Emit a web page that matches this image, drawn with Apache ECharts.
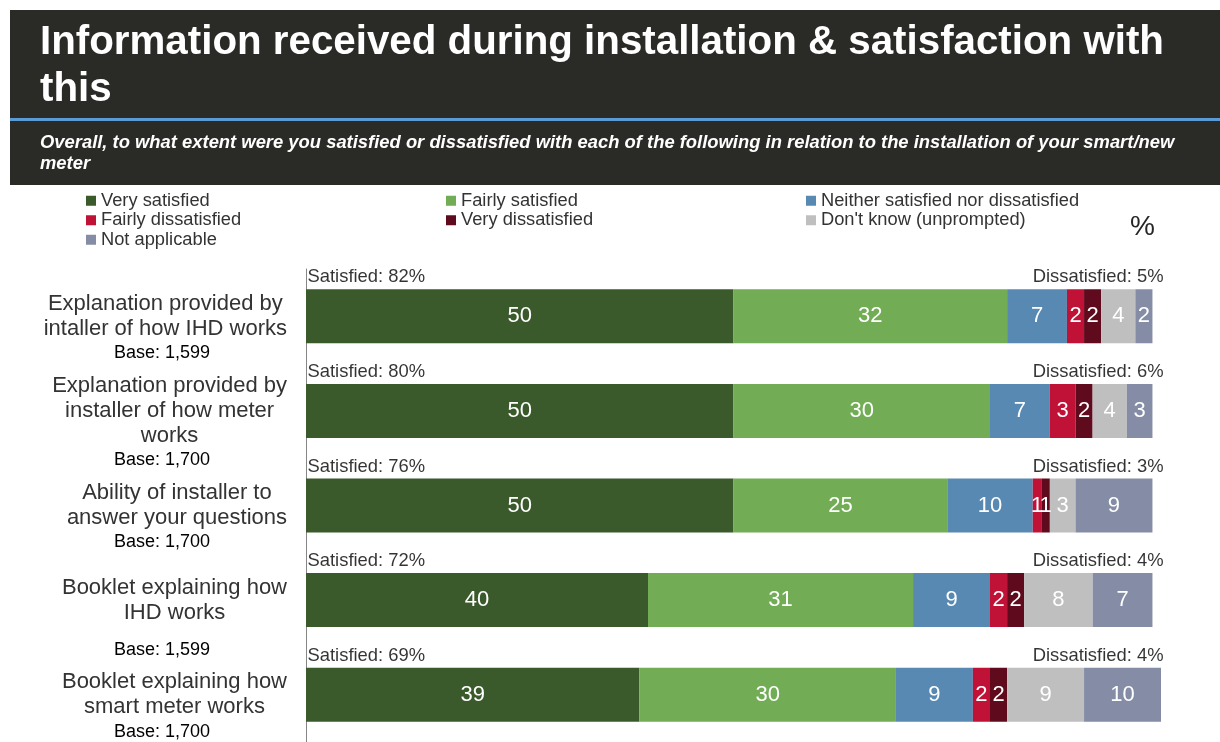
<!DOCTYPE html>
<html>
<head>
<meta charset="utf-8">
<title>Information received during installation & satisfaction with this</title>
<script src="https://cdn.jsdelivr.net/npm/echarts@6/dist/echarts.min.js"></script>
<style>
  html, body { margin: 0; padding: 0; background: #ffffff; }
  #chart { width: 1220px; height: 742px; }
</style>
</head>
<body>
<div id="chart"></div>
<script>
// Question rows; an empty string is a short blank line in the axis label
const categoryLines = [
  ['Explanation provided by', 'intaller of how IHD works'],
  ['Explanation provided by', 'installer of how meter', 'works'],
  ['Ability of installer to', 'answer your questions'],
  ['', 'Booklet explaining how', 'IHD works', ''],
  ['Booklet explaining how', 'smart meter works']
];
const bases = ['1,599', '1,700', '1,700', '1,599', '1,700'];

const seriesNames = [
  'Very satisfied',
  'Fairly satisfied',
  'Neither satisfied nor dissatisfied',
  'Fairly dissatisfied',
  'Very dissatisfied',
  "Don't know (unprompted)",
  'Not applicable'
];

// Percentages per row (top to bottom)
const verySatisfied      = [50, 50, 50, 40, 39];
const fairlySatisfied    = [32, 30, 25, 31, 30];
const neither            = [7, 7, 10, 9, 9];
const fairlyDissatisfied = [2, 3, 1, 2, 2];
const veryDissatisfied   = [2, 2, 1, 2, 2];
const dontKnow           = [4, 4, 3, 8, 9];
const notApplicable      = [2, 3, 9, 7, 10];

const satisfiedTotals    = [82, 80, 76, 72, 69];
const dissatisfiedTotals = [5, 6, 3, 4, 4];

const seriesValues = [verySatisfied, fairlySatisfied, neither, fairlyDissatisfied,
                      veryDissatisfied, dontKnow, notApplicable];
const colors = ['#3b5a2b', '#72ad56', '#5889b2', '#c01136', '#600a1d', '#bfbfbf', '#858ca5'];

const FONT = '"Liberation Sans", Arial, Helvetica, sans-serif';
const categories = categoryLines.map(l => l.filter(Boolean).join(' '));

// Left-hand labels: question text (right-aligned block) and its base (own column)
function nameLabel(value, idx) {
  const rows = categoryLines[idx].map(l => l ? '{n|' + l + '}' : '{g| }');
  rows.push('{hb| }');
  return rows.join('\n');
}
function baseLabel(value, idx) {
  const rows = categoryLines[idx].map(l => l ? '{hn| }' : '{g| }');
  rows.push('{b|Base: ' + bases[idx] + '}');
  return rows.join('\n');
}
const labelRich = {
  n:  { fontSize: 22, lineHeight: 25, color: '#333333', align: 'center', fontFamily: FONT },
  b:  { fontSize: 18, lineHeight: 24, color: '#000000', align: 'center', fontFamily: FONT },
  g:  { fontSize: 1, lineHeight: 13, align: 'center' },
  hn: { fontSize: 1, lineHeight: 25, align: 'center' },
  hb: { fontSize: 1, lineHeight: 24, align: 'center' }
};

const barSeries = seriesNames.map((name, k) => ({
  name: name,
  type: 'bar',
  stack: 'total',
  barWidth: 54,
  xAxisIndex: 0,
  yAxisIndex: 0,
  itemStyle: { color: colors[k] },
  label: {
    show: true,
    position: 'inside',
    color: '#ffffff',
    fontSize: 22,
    fontFamily: FONT,
    formatter: p => p.value
  },
  emphasis: { disabled: true },
  data: seriesValues[k]
}));

const totalLabelStyle = { fontSize: 18.4, color: '#000000', fontFamily: FONT };

const chart = echarts.init(document.getElementById('chart'), null, { renderer: 'canvas' });
chart.setOption({
  animation: false,
  textStyle: { fontFamily: FONT },
  color: colors,
  graphic: [
    { type: 'rect', z: 0, shape: { x: 10, y: 10, width: 1210, height: 175 }, style: { fill: '#2a2a26' } },
    { type: 'rect', z: 1, shape: { x: 10, y: 118, width: 1210, height: 3 }, style: { fill: '#5b9bd5' } }
  ],
  title: [
    {
      text: 'Information received during installation & satisfaction with\nthis',
      left: 40, top: 19, padding: 0,
      textStyle: { color: '#ffffff', fontSize: 40.3, fontWeight: 'bold', lineHeight: 47, fontFamily: FONT }
    },
    {
      text: 'Overall, to what extent were you satisfied or dissatisfied with each of the following in relation to the installation of your smart/new\nmeter',
      left: 40, top: 132, padding: 0,
      textStyle: { color: '#ffffff', fontSize: 18.4, fontWeight: 'bold', fontStyle: 'italic', lineHeight: 21.5, fontFamily: FONT }
    },
    {
      text: '%',
      left: 1130, top: 213, padding: 0,
      textStyle: { color: '#262626', fontSize: 28, fontWeight: 'normal', fontFamily: FONT }
    }
  ],
  legend: [
    { data: [seriesNames[0], seriesNames[3], seriesNames[6]], left: 86 },
    { data: [seriesNames[1], seriesNames[4]], left: 446 },
    { data: [seriesNames[2], seriesNames[5]], left: 806 }
  ].map(l => Object.assign({
    orient: 'vertical',
    top: 191,
    padding: 0,
    itemGap: 0,
    itemWidth: 10,
    itemHeight: 10,
    icon: 'rect',
    selectedMode: false,
    textStyle: { fontSize: 18.3, lineHeight: 19.5, color: '#333333', fontFamily: FONT }
  }, l)),
  grid: {
    left: 306,
    right: 59,
    top: 269,
    height: 473,
    containLabel: false,
    outerBoundsMode: 'none'
  },
  xAxis: {
    type: 'value',
    min: 0,
    max: 100,
    show: false
  },
  yAxis: [
    {
      type: 'category',
      inverse: true,
      data: categories,
      axisLine: { show: true, lineStyle: { color: '#868686', width: 1 } },
      axisTick: { show: false },
      splitLine: { show: false },
      axisLabel: {
        interval: 0,
        margin: 19,
        padding: [24, 0, 0, 0],
        formatter: nameLabel,
        rich: labelRich
      }
    },
    {
      type: 'category',
      inverse: true,
      position: 'left',
      data: categories,
      axisLine: { show: false },
      axisTick: { show: false },
      splitLine: { show: false },
      axisLabel: {
        interval: 0,
        margin: 144,
        align: 'center',
        padding: [24, 0, 0, 0],
        formatter: baseLabel,
        rich: labelRich
      }
    }
  ],
  series: barSeries.concat([
    {
      name: 'satisfiedTotal',
      type: 'scatter',
      silent: true,
      symbolSize: 1,
      itemStyle: { color: 'rgba(0,0,0,0)' },
      xAxisIndex: 0,
      yAxisIndex: 0,
      label: Object.assign({
        show: true,
        position: 'right',
        distance: 1,
        offset: [0, -39],
        formatter: p => 'Satisfied: ' + p.value[2] + '%'
      }, totalLabelStyle),
      data: satisfiedTotals.map((v, i) => [0, i, v])
    },
    {
      name: 'dissatisfiedTotal',
      type: 'scatter',
      silent: true,
      symbolSize: 1,
      itemStyle: { color: 'rgba(0,0,0,0)' },
      xAxisIndex: 0,
      yAxisIndex: 0,
      label: Object.assign({
        show: true,
        position: 'left',
        distance: 0,
        offset: [3, -39],
        formatter: p => 'Dissatisfied: ' + p.value[2] + '%'
      }, totalLabelStyle),
      data: dissatisfiedTotals.map((v, i) => [100, i, v])
    }
  ])
});
</script>
</body>
</html>
